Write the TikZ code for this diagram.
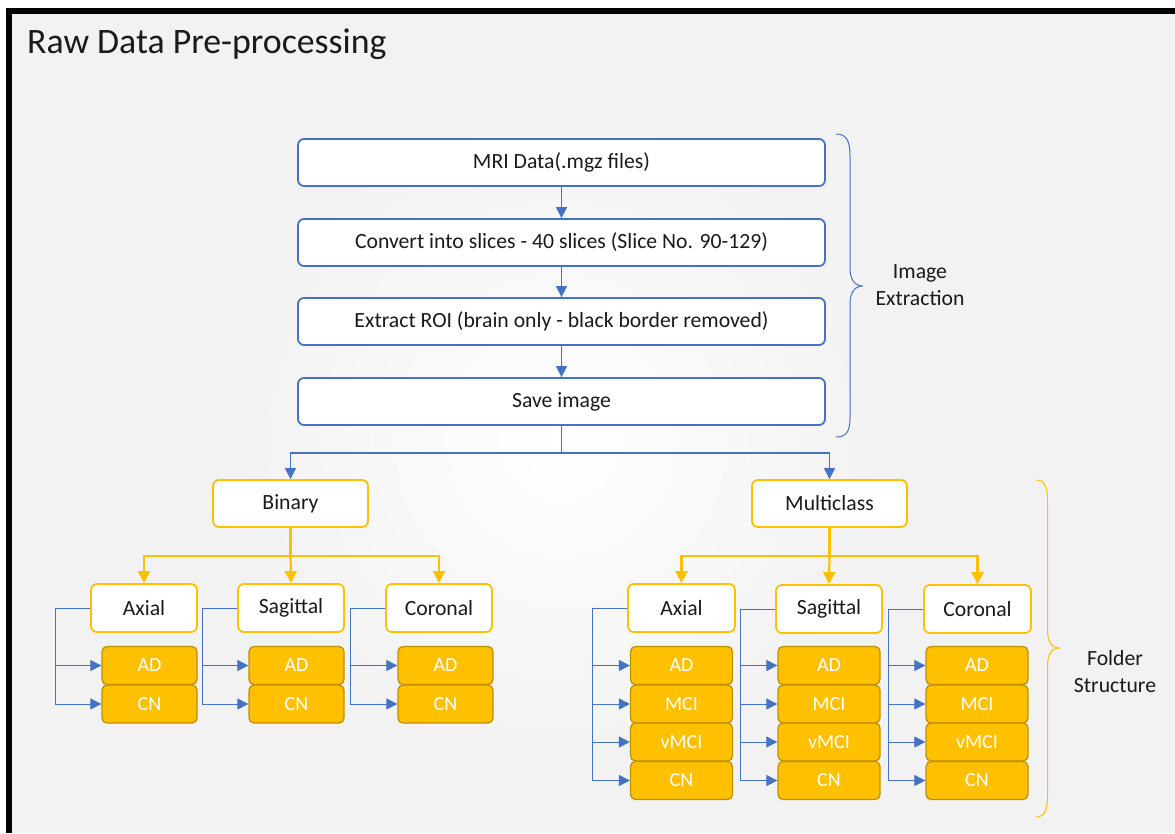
\documentclass[tikz,border=0pt]{standalone}
\usepackage{fontspec}
\setmainfont{Carlito}
\usetikzlibrary{arrows.meta}
\definecolor{obl}{HTML}{4472C4}
\definecolor{ogd}{HTML}{FFC000}
\definecolor{ogdk}{HTML}{BF9000}
\definecolor{bgg}{HTML}{F2F2F2}
\definecolor{txt}{HTML}{1A1A1A}
\tikzset{
  bbox/.style={draw=obl, line width=1.8pt, rounded corners=6pt, fill=white, minimum width=527pt, minimum height=47pt, inner sep=0pt, font=\fontsize{21.7}{26}\selectfont, text=txt},
  gbox/.style={draw=ogd, line width=1.8pt, rounded corners=6pt, fill=white, minimum height=47pt, inner sep=0pt, font=\fontsize{21.7}{26}\selectfont, text=txt},
  leaf/.style={draw=ogdk, line width=1.3pt, rounded corners=5pt, fill=ogd, minimum height=38pt, inner sep=0pt, font=\fontsize{20}{24}\selectfont, text=white},
  bconn/.style={draw=obl, line width=1.4pt},
  barr/.style={bconn, -{Triangle[length=11pt,width=11pt]}},
  gconn/.style={draw=ogd, line width=2.2pt},
  garr/.style={gconn, -{Triangle[length=12pt,width=12pt]}},
  lconn/.style={draw=obl, line width=1pt, -{Triangle[length=11pt,width=11pt]}},
  lbl/.style={font=\fontsize{21.7}{27}\selectfont, text=txt, align=center}
}
\begin{document}
\begin{tikzpicture}[x=1pt,y=-1pt]
\useasboundingbox (0,0) rectangle (1175,833);
\fill[white] (0,0) rectangle (1175,833);
\fill[bgg] (9,11) rectangle (1175,833);
\begin{scope}
\clip (9,11) rectangle (1175,833);
\shade[inner color=white, outer color=bgg] (560,440) circle (330);
\end{scope}
\draw[line width=6pt, black] (9,833) -- (9,11) -- (1175,11);
\node[anchor=base west, font=\fontsize{35.8}{42}\selectfont, text=txt, inner sep=0pt] (title) at (27,53) {Raw Data Pre-processing};

% top chain
\node[bbox] (b1) at (561.5,162.5) {MRI Data(.mgz files)};
\node[bbox] (b2) at (561.5,242.5) {Convert into slices - 40 slices (Slice No. 90-129)};
\node[bbox] (b3) at (561.5,321.5) {Extract ROI (brain only - black border removed)};
\node[bbox] (b4) at (561.5,401.5) {Save image};
\draw[barr] (b1) -- (b2);
\draw[barr] (b2) -- (b3);
\draw[barr] (b3) -- (b4);

% level 2
\node[gbox, minimum width=155pt] (bin) at (290.5,503.5) {Binary};
\node[gbox, minimum width=155pt] (mc) at (829.5,503.5) {Multiclass};
\coordinate (j1) at (561.5,453);
\draw[bconn] (b4.south) -- (j1);
\draw[barr] (j1) -| (bin.north);
\draw[barr] (j1) -| (mc.north);

% binary
\node[gbox, minimum width=106pt, minimum height=48pt] (bax) at (144,608) {Axial};
\node[gbox, minimum width=106pt, minimum height=48pt] (bsa) at (291,608) {Sagittal};
\node[gbox, minimum width=106pt, minimum height=48pt] (bco) at (439,608) {Coronal};
\coordinate (jb) at (290.5,556);
\draw[gconn] (bin.south) -- (jb);
\draw[garr] (jb) -| (bax.north);
\draw[garr] (jb) -- (bsa.north);
\draw[garr] (jb) -| (bco.north);

\node[leaf, minimum width=95pt] (baxad) at (149.5,665.5) {AD};
\node[leaf, minimum width=95pt] (baxcn) at (149.5,704) {CN};
\node[leaf, minimum width=95pt] (bsaad) at (296.5,665.5) {AD};
\node[leaf, minimum width=95pt] (bsacn) at (296.5,704) {CN};
\node[leaf, minimum width=95pt] (bcoad) at (445.5,665.5) {AD};
\node[leaf, minimum width=95pt] (bcocn) at (445.5,704) {CN};
\foreach \p/\c in {bax/baxad,bax/baxcn,bsa/bsaad,bsa/bsacn,bco/bcoad,bco/bcocn}{
  \draw[lconn] (\p.west) -- ++(-35,0) |- (\c.west);
}

% multiclass
\node[gbox, minimum width=107pt, minimum height=48pt] (max) at (681.5,608) {Axial};
\node[gbox, minimum width=106pt, minimum height=48pt] (msa) at (829,609) {Sagittal};
\node[gbox, minimum width=107pt, minimum height=48pt] (mco) at (977.5,609) {Coronal};
\coordinate (jm) at (829.5,556);
\draw[gconn] (mc.south) -- (jm);
\draw[garr] (jm) -| (max.north);
\draw[garr] (jm) -- (msa.north);
\draw[garr] (jm) -| (mco.north);

\foreach \n/\x in {max/681.5, msa/829, mco/977}{
  \node[leaf, minimum width=102pt] (\n ad) at (\x,665.5) {AD};
  \node[leaf, minimum width=102pt] (\n mci) at (\x,704) {MCI};
  \node[leaf, minimum width=102pt] (\n vmci) at (\x,742) {vMCI};
  \node[leaf, minimum width=102pt] (\n cn) at (\x,780.5) {CN};
}
\foreach \p in {max,msa,mco}{
  \foreach \c in {ad,mci,vmci,cn}{
    \draw[lconn] (\p.west) -- ++(-35,0) |- (\p\c.west);
  }
}

% braces
\draw[obl, line width=1pt] (836,134) .. controls (846,134) and (850,140) .. (850,156) -- (850,268) .. controls (850,280) and (855,286) .. (863,286) .. controls (855,286) and (850,292) .. (850,304) -- (850,418) .. controls (850,432) and (846,437) .. (836,437);
\node[lbl] (ie) at (920,285) {Image\\Extraction};

\draw[ogd, line width=1pt] (1036,480) .. controls (1044,480) and (1047.5,486) .. (1047.5,500) -- (1047.5,630) .. controls (1047.5,642) and (1052,648) .. (1059,648) .. controls (1052,648) and (1047.5,654) .. (1047.5,666) -- (1047.5,797) .. controls (1047.5,811) and (1044,817) .. (1036,817);
\node[lbl] (fs) at (1115,672) {Folder\\Structure};
\end{tikzpicture}
\end{document}
